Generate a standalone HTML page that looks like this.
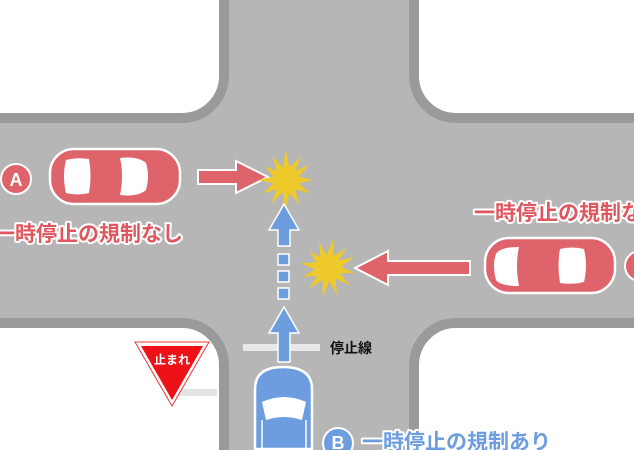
<!DOCTYPE html>
<html><head><meta charset="utf-8"><style>
html,body{margin:0;padding:0;width:634px;height:450px;overflow:hidden;background:#b6b6b6}
svg{display:block}
text{font-family:"Liberation Sans","Noto Sans CJK JP",sans-serif;font-weight:bold}
</style></head><body>
<svg width="634" height="450" viewBox="0 0 634 450" xmlns="http://www.w3.org/2000/svg">
<rect width="634" height="450" fill="#b6b6b6"/>
<g fill="#fff" stroke="#9a9a9a" stroke-width="10">
<rect x="-100" y="-100" width="324" height="218" rx="42"/>
<rect x="414" y="-100" width="400" height="218" rx="42"/>
<rect x="-100" y="323" width="324" height="300" rx="42"/>
<rect x="414" y="323" width="400" height="300" rx="42"/>
</g>
<rect x="243" y="344" width="77" height="7" fill="#e8e8e8"/>
<rect x="175" y="389" width="42" height="7" fill="#e4e4e4"/>
<!-- stop sign -->
<polygon points="135,342 209,342 172,406" fill="#fff" stroke="#e33" stroke-width="1"/>
<polygon points="141,346 203,346 172,400" fill="#ee1118"/>
<text x="172" y="364" font-size="12" fill="#fff" text-anchor="middle">止まれ</text>
<text x="330" y="353" font-size="14" fill="#111">停止線</text>
<!-- red car A -->
<rect x="50" y="149" width="130" height="55" rx="24" fill="#df636a" stroke="#fff" stroke-width="2.5"/>
<path d="M66,160 Q78,157 89,159 Q92,176 89,193 Q78,196 66,193 Q62,176 66,160Z" fill="#fff"/>
<path d="M120,158 Q138,156 146,163 Q150,176 146,190 Q138,197 120,195 Q124,176 120,158Z" fill="#fff"/>
<!-- A badge -->
<circle cx="16" cy="179" r="15" fill="#df636a" stroke="#fff" stroke-width="2"/>
<text x="16" y="186" font-size="18" fill="#fff" text-anchor="middle">A</text>
<text x="-6" y="241" font-size="21" fill="#df5860" stroke="#fff" stroke-width="4" paint-order="stroke" stroke-linejoin="round">一時停止の規制なし</text>
<!-- red car right -->
<rect x="485" y="238" width="130" height="55" rx="24" fill="#df636a" stroke="#fff" stroke-width="2.5"/>
<path d="M519,247 Q500,247 496,254 Q492,265 496,280 Q500,286 519,286 Q515,265 519,247Z" fill="#fff"/>
<path d="M560,249 Q572,246 584,249 Q588,265 584,282 Q572,285 560,283 Q557,265 560,249Z" fill="#fff"/>
<circle cx="640" cy="266" r="15" fill="#df636a" stroke="#fff" stroke-width="2"/>
<text x="474" y="220" font-size="21" fill="#df5860" stroke="#fff" stroke-width="4" paint-order="stroke" stroke-linejoin="round">一時停止の規制なし</text>
<!-- red arrows -->
<polygon points="198,170 236,170 236,161 268,177 236,193 236,184 198,184" fill="#df636a" stroke="#fff" stroke-width="2"/>
<polygon points="470,261 388,261 388,251 355,268 388,285 388,275 470,275" fill="#df636a" stroke="#fff" stroke-width="2"/>
<g fill="#eec92a">
<polygon transform="translate(286,180)" points="27,0 12.6,3.4 25,13.5 9.2,9.2 13.5,25 3.4,12.6 0,30 -3.4,12.6 -15,23.4 -9.2,9.2 -23.4,13.5 -12.6,3.4 -28,0 -12.6,-3.4 -21,-13.5 -9.2,-9.2 -13.5,-24 -3.4,-12.6 0,-30 3.4,-12.6 15,-23.4 9.2,-9.2 23.4,-15 12.6,-3.4"/>
<polygon transform="translate(328,268) rotate(10)" points="27,0 12.6,3.4 25,13.5 9.2,9.2 13.5,25 3.4,12.6 0,30 -3.4,12.6 -15,23.4 -9.2,9.2 -23.4,13.5 -12.6,3.4 -28,0 -12.6,-3.4 -21,-13.5 -9.2,-9.2 -13.5,-24 -3.4,-12.6 0,-30 3.4,-12.6 15,-23.4 9.2,-9.2 23.4,-15 12.6,-3.4"/>
</g>
<g fill="#6e9ddf" stroke="#fff" stroke-width="1.5">
<polygon points="278,246 278,230 269,230 284,204 299,230 290,230 290,246"/>
<rect x="278" y="254" width="11" height="11"/>
<rect x="278" y="271" width="11" height="11"/>
<rect x="278" y="288" width="11" height="11"/>
<polygon points="278,362 278,333 269,333 284,307 299,333 290,333 290,362"/>
</g>
<!-- blue car -->
<path d="M255,449 L255,389 Q255,367 283,367 Q312,367 312,389 L312,449Z" fill="#6e9ddf" stroke="#fff" stroke-width="2.5"/>
<path d="M262,402 Q284,392 306,402 L302,420 Q284,414 266,420Z" fill="#fff"/>
<line x1="262" y1="420" x2="262" y2="449" stroke="#fff" stroke-width="1.5"/>
<line x1="306" y1="420" x2="306" y2="449" stroke="#fff" stroke-width="1.5"/>
<circle cx="338" cy="443" r="15" fill="#6e9ddf" stroke="#fff" stroke-width="2"/>
<text x="338" y="449" font-size="18" fill="#fff" text-anchor="middle">B</text>
<text x="362" y="449" font-size="21" fill="#6e9ddf" stroke="#fff" stroke-width="4" paint-order="stroke" stroke-linejoin="round">一時停止の規制あり</text>
</svg>
</body></html>
